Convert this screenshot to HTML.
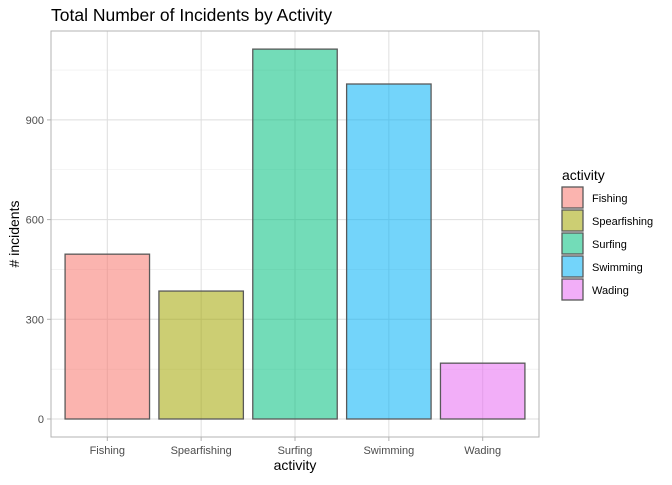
<!DOCTYPE html>
<html><head><meta charset="utf-8"><style>
body{margin:0;background:#fff;font-family:"Liberation Sans",sans-serif}
</style></head><body>
<svg id="chart" width="672" height="480" xmlns="http://www.w3.org/2000/svg" font-family="Liberation Sans, sans-serif">
<text x="51" y="21" font-size="17.5" fill="#000">Total Number of Incidents by Activity</text>
<g id="grid"></g>
<g id="bars"></g>
<rect x="51" y="31" width="488" height="406" fill="none" stroke="#b3b3b3" stroke-width="1"/>
<g id="axes"></g>
<text x="295" y="470" font-size="14" text-anchor="middle">activity</text>
<text transform="translate(19,234) rotate(-90)" font-size="14" text-anchor="middle"># incidents</text>
<g id="legend"></g>
</svg>
<script>
const categories = ["Fishing","Spearfishing","Surfing","Swimming","Wading"];
const values = [496, 385, 1113, 1008, 168];
const colors = ["#F8766D","#A3A500","#00BF7D","#00B0F6","#E76BF3"];
const yTicks = [0,300,600,900];
const yMinor = [150,450,750,1050];

const NS="http://www.w3.org/2000/svg";
const px0=51, pw=488, band=pw/5.2;
const x = i => px0 + (i+0.6)*band;
const y = v => 419 - v*(99.7/300);
function mk(tag, attrs, parent){const e=document.createElementNS(NS,tag);for(const k in attrs)e.setAttribute(k,attrs[k]);parent.appendChild(e);return e;}
const grid=document.getElementById('grid'), bars=document.getElementById('bars'), axes=document.getElementById('axes'), legend=document.getElementById('legend');
yMinor.forEach(v=>{const l=mk('line',{x1:51,x2:539,y1:y(v),y2:y(v),stroke:'#ebebeb','stroke-width':0.6},grid);

});
yTicks.forEach(v=>{const l=mk('line',{x1:51,x2:539,y1:y(v),y2:y(v),stroke:'#dedede','stroke-width':1},grid);


const t=mk('line',{x1:47,x2:51,y1:y(v),y2:y(v),stroke:'#b3b3b3'},axes);


const tx=mk('text',{x:44,y:y(v)+4,'font-size':11,'text-anchor':'end',fill:'#4d4d4d'},axes);tx.textContent=v;

});
categories.forEach((c,i)=>{const l=mk('line',{x1:x(i),x2:x(i),y1:31,y2:437,stroke:'#dedede','stroke-width':1},grid);


const w=band*0.9;
const r=mk('rect',{x:x(i)-w/2,y:y(values[i]),width:w,height:y(0)-y(values[i]),fill:colors[i],'fill-opacity':0.55,stroke:'#595959','stroke-width':1.3},bars);


const t=mk('line',{x1:x(i),x2:x(i),y1:437,y2:441,stroke:'#b3b3b3'},axes);


const tx=mk('text',{x:x(i),y:454,'font-size':11,'text-anchor':'middle',fill:'#4d4d4d'},axes);tx.textContent=c;


const k=mk('rect',{x:562,y:187+i*23,width:21,height:21,fill:colors[i],'fill-opacity':0.55,stroke:'#595959','stroke-width':1.3},legend);


const lt=mk('text',{x:592,y:202+i*23,'font-size':11,fill:'#000'},legend);lt.textContent=c;

});
const lt=mk('text',{x:562,y:180,'font-size':14,fill:'#000'},legend);lt.textContent='activity';


</script>
</body></html>
